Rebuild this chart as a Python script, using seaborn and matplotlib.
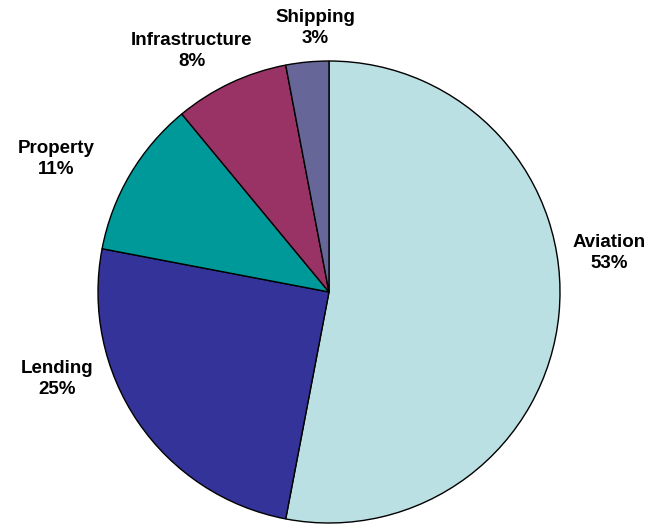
import matplotlib
matplotlib.use("Agg")
import matplotlib.pyplot as plt
import seaborn as sns

categories = ["Aviation", "Lending", "Property", "Infrastructure", "Shipping"]
values = [53, 25, 11, 8, 3]
colors = ["#BBE0E3", "#333399", "#009999", "#993366", "#666699"]

sns.set_theme(style="white")
plt.rcParams['font.family'] = ['Liberation Sans', 'DejaVu Sans']

fig = plt.figure(figsize=(6.51, 5.24), dpi=100)
ax = fig.add_axes([0, 0, 1, 1])

labels = [f"{c}\n{v}%" for c, v in zip(categories, values)]
wedges, texts = ax.pie(values, labels=labels, colors=colors, startangle=90,
                       counterclock=False, center=(329, 232), radius=231,
                       wedgeprops=dict(edgecolor='black', linewidth=1.0),
                       textprops=dict(fontsize=13.5, fontweight='heavy', color='black',
                                      ha='center', va='center', linespacing=1.25),
                       frame=True)
ax.set_xlim(0, 651)
ax.set_ylim(0, 524)
ax.set_aspect('equal')
ax.axis('off')

label_pos = [(609, 253), (57, 379), (56, 159), (192, 51), (315, 28)]
for t, (x, y) in zip(texts, label_pos):
    t.set_position((x, 524 - y))
    t.set_ha('center')
    t.set_va('center')

fig.savefig("out.png", dpi=100)
